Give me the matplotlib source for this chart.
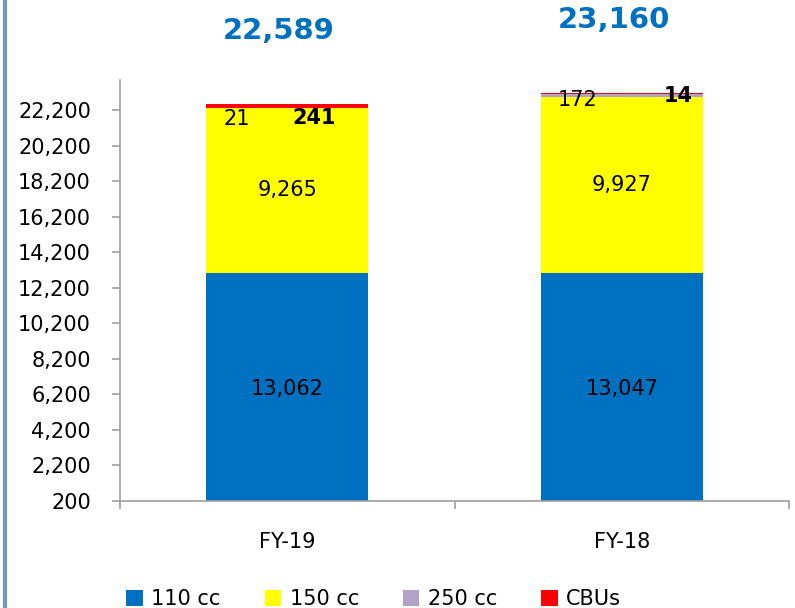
import matplotlib
matplotlib.use("Agg")
import matplotlib.pyplot as plt
from matplotlib.lines import Line2D
from matplotlib.patches import Patch
import numpy as np

years = ["FY-19", "FY-18"]
cc110 = [13062, 13047]
cc150 = [9265, 9927]
cc250 = [21, 172]
cbus = [241, 14]
totals = ["22,589", "23,160"]

series = [cc110, cc150, cc250, cbus]
names = ["110 cc", "150 cc", "250 cc", "CBUs"]
colors = ["#0070c0", "#ffff00", "#b3a2c7", "#ff0000"]

fig = plt.figure(figsize=(7.95, 6.08), dpi=100)
ax = fig.add_axes([0.151, 0.176, 0.8415, 0.692])

x = np.arange(len(years))
bottom = np.zeros(len(years))
for vals, c in zip(series, colors):
    ax.bar(x, vals, bottom=bottom, width=0.485, color=c, zorder=2)
    bottom += np.array(vals)

# big segment labels, centred
for i in range(len(years)):
    ax.text(i, cc110[i] / 2, f"{cc110[i]:,}", ha="center", va="center", fontsize=15)
    ax.text(i, cc110[i] + cc150[i] / 2, f"{cc150[i]:,}", ha="center", va="center", fontsize=15)

# small segment labels, nudged apart
small_offsets = [((-0.152, -15), (0.08, -14)), ((-0.133, -7), (0.17, -3))]
for i in range(len(years)):
    top = bottom[i]
    (dx1, dy1), (dx2, dy2) = small_offsets[i]
    ax.annotate(f"{cc250[i]:,}", xy=(i + dx1, top), xytext=(0, dy1 * 0.72),
                textcoords="offset points", ha="center", va="center", fontsize=15)
    ax.annotate(f"{cbus[i]:,}", xy=(i + dx2, top), xytext=(0, dy2 * 0.72),
                textcoords="offset points", ha="center", va="center", fontsize=15,
                fontweight="bold")
    ax.annotate(totals[i], xy=(i, top), xytext=(-6, 52.5), textcoords="offset points",
                ha="center", va="center", fontsize=21, fontweight="bold",
                color="#0070c0", annotation_clip=False)

ax.set_xlim(-0.5, 1.5)
ax.set_ylim(200, 23900)
ax.set_yticks(np.arange(200, 22201, 2000))
ax.set_yticklabels([f"{v:,}" for v in range(200, 22201, 2000)])
ax.set_xticks(x)
ax.set_xticklabels(years)
ax.set_xticks([-0.5, 0.5, 1.5], minor=True)
ax.tick_params(axis="x", which="major", length=0, pad=22, labelsize=15)
ax.tick_params(axis="x", which="minor", length=6, color="#a0a0a0", width=1.2)
ax.tick_params(axis="y", length=6, color="#a0a0a0", width=1.2, pad=15, labelsize=15)

for s in ["top", "right"]:
    ax.spines[s].set_visible(False)
for s in ["left", "bottom"]:
    ax.spines[s].set_color("#a0a0a0")
    ax.spines[s].set_linewidth(1.2)

# left border line of the slide frame
fig.add_artist(Line2D([0.0063, 0.0063], [0, 1], color="#6f95c9", lw=3,
                      transform=fig.transFigure))

handles = [Patch(facecolor=c, edgecolor="none") for c in colors]
fig.legend(handles, names, loc="center", bbox_to_anchor=(0.47, 0.015), ncol=4,
           frameon=False, fontsize=15, handlelength=0.8, handleheight=0.8,
           handletextpad=0.4, columnspacing=2.1)

fig.savefig("out.png", dpi=100)
